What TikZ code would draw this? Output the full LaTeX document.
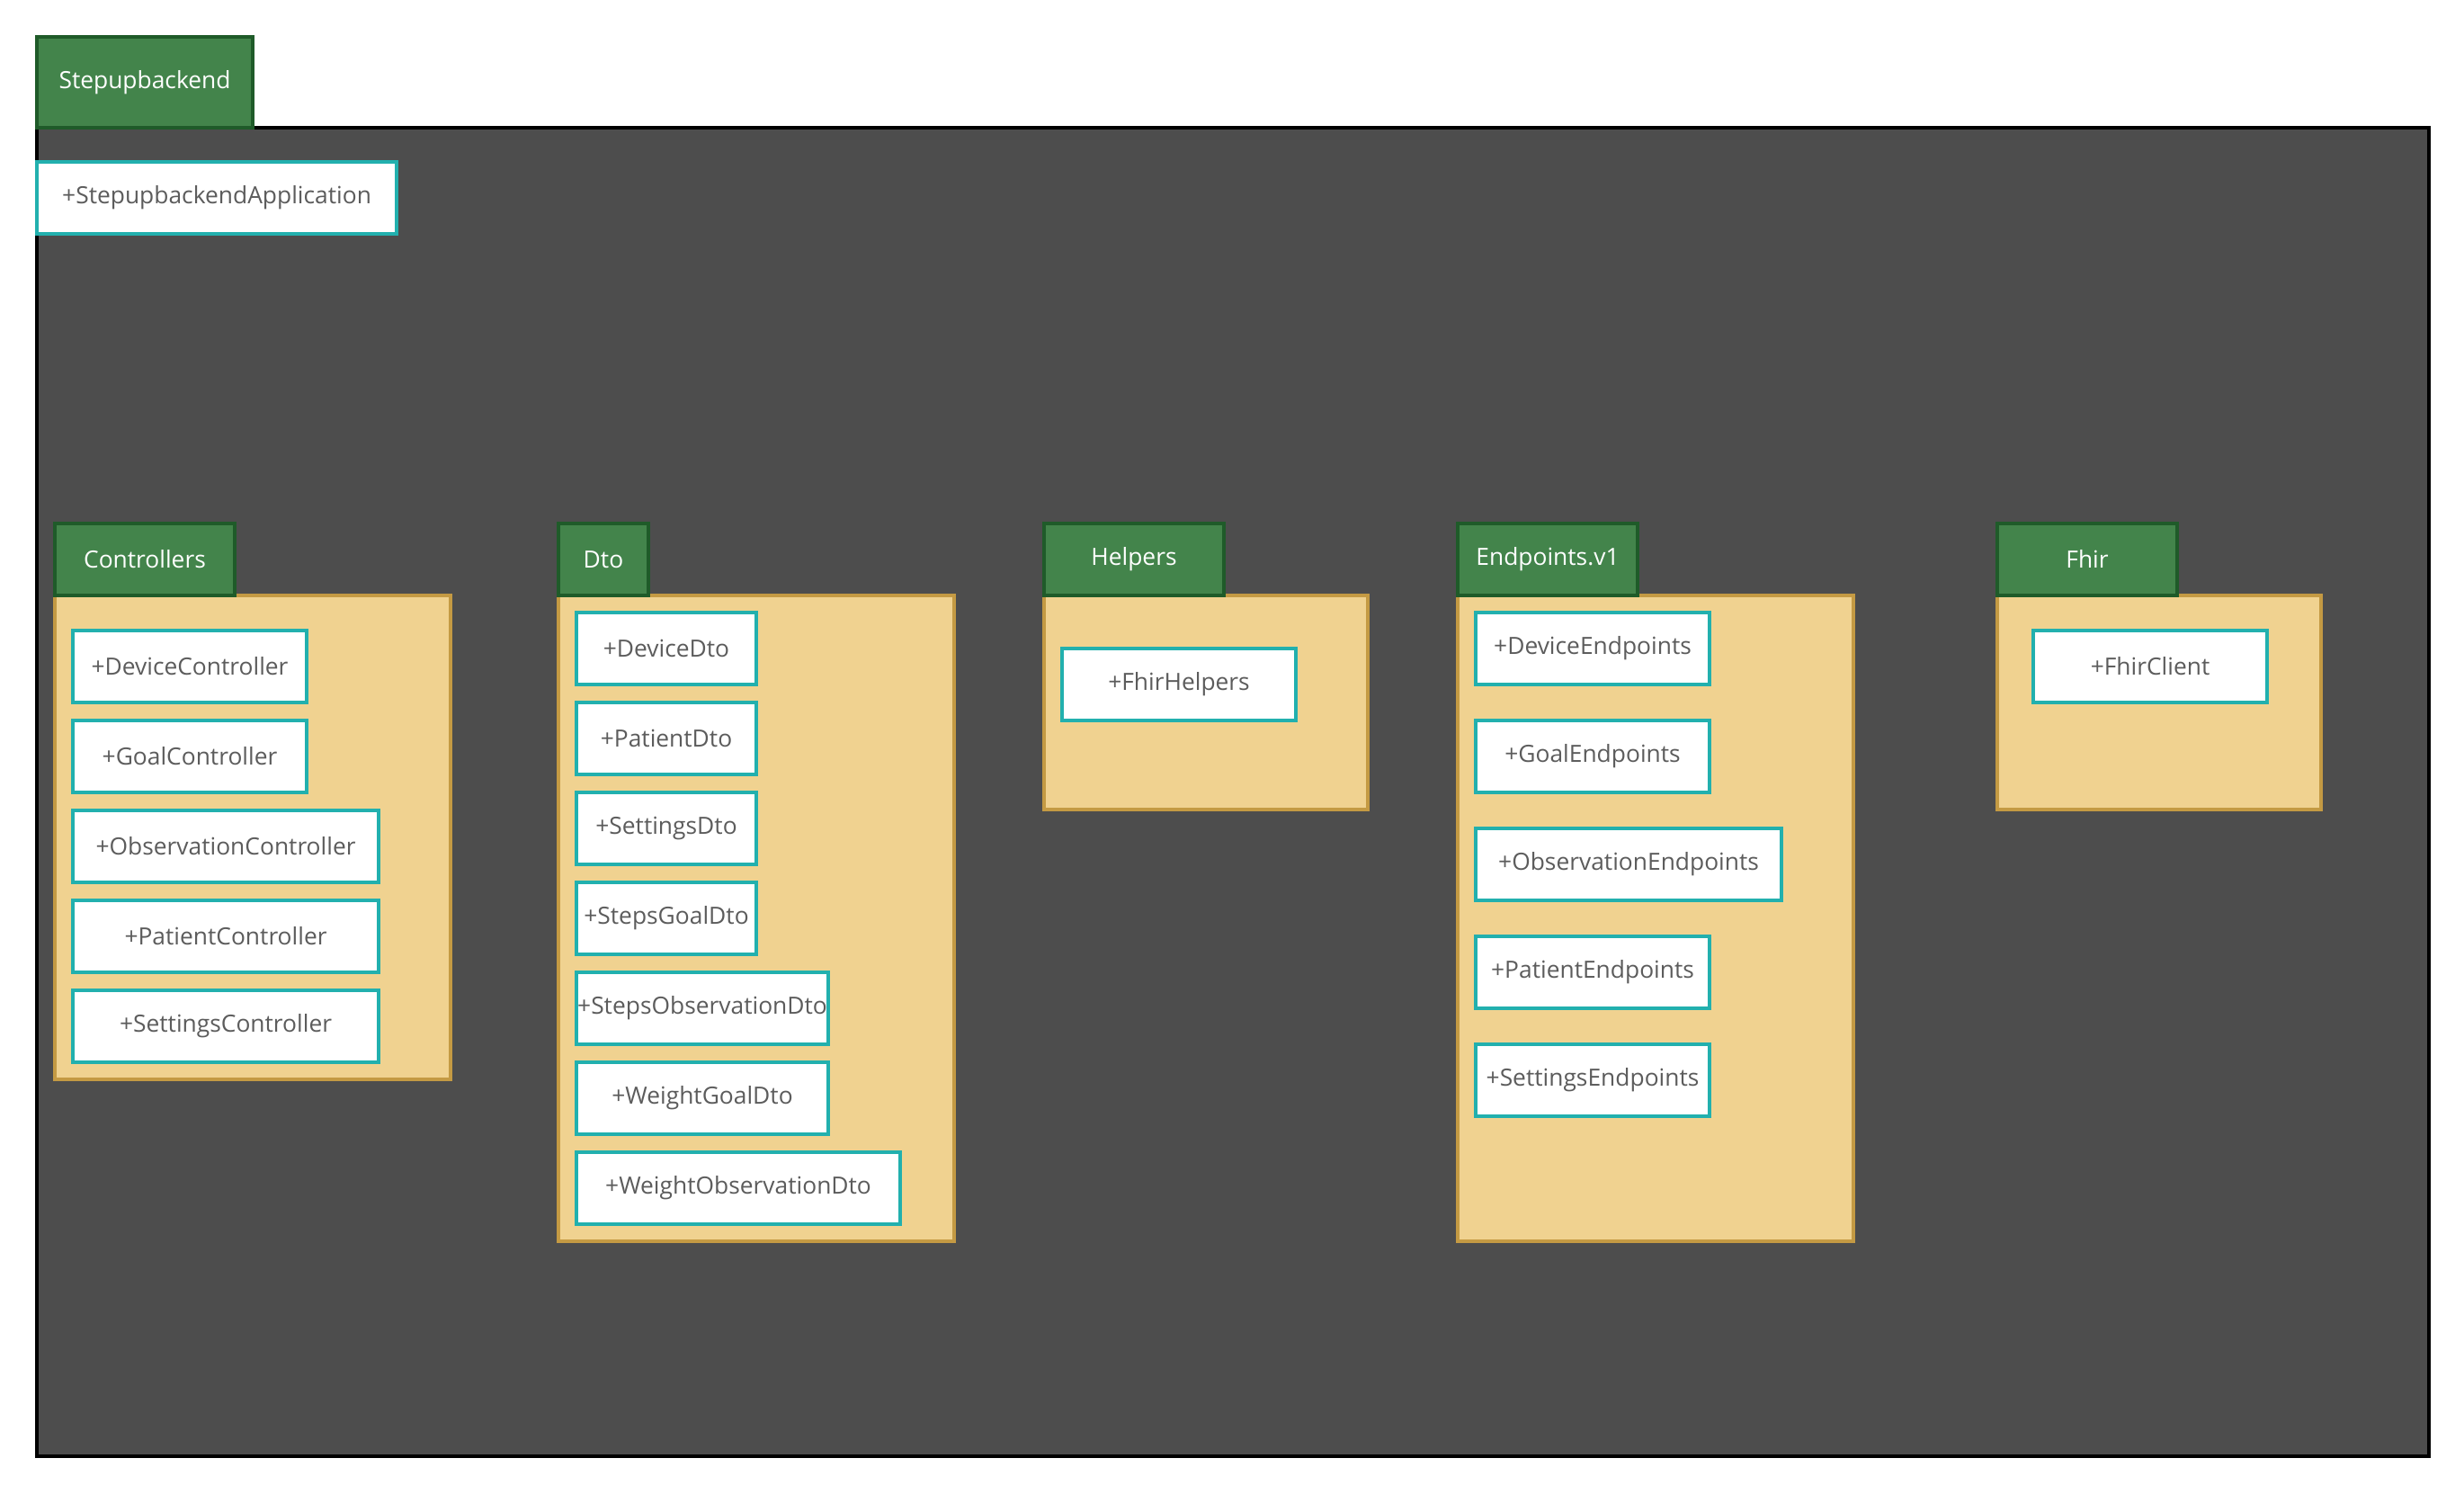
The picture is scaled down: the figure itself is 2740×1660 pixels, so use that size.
\documentclass[tikz,border=0pt]{standalone}
\usepackage{fontspec}
\setmainfont{Open Sans}
\usepackage{tikz}
\definecolor{PkgGreen}{HTML}{43844B}
\definecolor{PkgGreenDark}{HTML}{1F5B29}
\definecolor{PkgBody}{HTML}{F0D290}
\definecolor{PkgBorder}{HTML}{C49A43}
\definecolor{ClsTeal}{HTML}{22B0AE}
\definecolor{ClsText}{HTML}{5C5C5C}
\definecolor{FrameGray}{HTML}{4D4D4D}

\begin{document}
\begin{tikzpicture}[x=0.01cm,y=-0.01cm,font=\fontsize{7.5}{9}\selectfont,
    outerframe/.style={draw=black,fill=FrameGray,line width=1.2pt,anchor=north west,inner sep=0pt},
    pkgtab/.style={draw=PkgGreenDark,fill=PkgGreen,line width=1.1pt,text=white,anchor=north west,inner sep=0pt,minimum height=0.8cm},
    pkg/.style={draw=PkgBorder,fill=PkgBody,line width=1.1pt,anchor=north west,inner sep=0pt},
    cls/.style={draw=ClsTeal,fill=white,line width=1.1pt,text=ClsText,anchor=west,inner sep=0pt,minimum height=0.8cm}]
    \useasboundingbox (0,0) rectangle (2740,1660);

%   Stepupbackend
    \node[outerframe,minimum width=26.58cm,minimum height=14.76cm] (stepup) at (39,140) {};
    \node[pkgtab,minimum width=2.4cm,minimum height=1.01cm] (stepuptab) at (39,39) {Stepupbackend};
    \node[cls,minimum width=4.0cm,minimum height=0.8cm] (app) at (39,220) {+StepupbackendApplication};

%   Controllers
    \node[pkg,minimum width=4.4cm,minimum height=5.38cm] (controllers) at (59,660) {};
    \node[pkgtab,minimum width=2.0cm] (controllerstab) at (59,580) {Controllers};
    \foreach \n/\w/\t [count=\i] in {dev/2.6/Device,goal/2.6/Goal,obs/3.4/Observation,pat/3.4/Patient,set/3.4/Settings} {
        \node[cls,minimum width=\w cm] (ctrl\n) at (79,641+100*\i) {+\t Controller};
    }

%   Dto
    \node[pkg,minimum width=4.4cm,minimum height=7.18cm] (dto) at (619,660) {};
    \node[pkgtab,minimum width=1.0cm] (dtotab) at (619,580) {Dto};
    \foreach \n/\w/\t [count=\i] in {dev/2.0/Device,pat/2.0/Patient,set/2.0/Settings,sgoal/2.0/StepsGoal,sobs/2.8/StepsObservation,wgoal/2.8/WeightGoal,wobs/3.6/WeightObservation} {
        \node[cls,minimum width=\w cm] (dto\n) at (639,621+100*\i) {+\t Dto};
    }

%   Helpers
    \node[pkg,minimum width=3.6cm,minimum height=2.38cm] (helpers) at (1159,660) {};
    \node[pkgtab,minimum width=2.0cm] (helperstab) at (1159,580) {Helpers};
    \node[cls,minimum width=2.6cm] (fhirhelpers) at (1179,761) {+FhirHelpers};

%   Endpoints.v1
    \node[pkg,minimum width=4.4cm,minimum height=7.18cm] (endpoints) at (1619,660) {};
    \node[pkgtab,minimum width=2.0cm] (endpointstab) at (1619,580) {Endpoints.v1};
    \foreach \n/\w/\t [count=\i] in {dev/2.6/Device,goal/2.6/Goal,obs/3.4/Observation,pat/2.6/Patient,set/2.6/Settings} {
        \node[cls,minimum width=\w cm] (ep\n) at (1639,601+120*\i) {+\t Endpoints};
    }

%   Fhir
    \node[pkg,minimum width=3.6cm,minimum height=2.38cm] (fhir) at (2219,660) {};
    \node[pkgtab,minimum width=2.0cm] (fhirtab) at (2219,580) {Fhir};
    \node[cls,minimum width=2.6cm] (fhirclient) at (2259,741) {+FhirClient};

\end{tikzpicture}
\end{document}
